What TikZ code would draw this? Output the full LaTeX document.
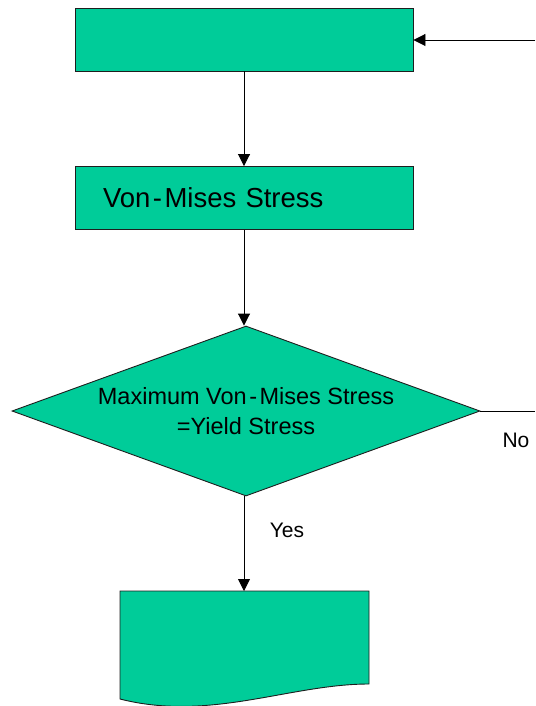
\documentclass[tikz,border=0pt]{standalone}
\usepackage{fontspec}
\setmainfont{Liberation Sans}
\usepackage{tikz}
\usetikzlibrary{shapes.geometric, arrows.meta, positioning}
\definecolor{boxgreen}{RGB}{0,204,153}
\definecolor{edgegray}{RGB}{30,30,30}
\tikzset{
  procbox/.style={rectangle, draw=edgegray, fill=boxgreen, line width=0.9pt,
    minimum width=338pt, minimum height=63pt, inner sep=0pt},
  decision/.style={diamond, draw=edgegray, fill=boxgreen, line width=0.9pt,
    aspect=2.75, inner sep=0pt, align=center,
    font=\fontsize{23.5}{30}\selectfont},
  arrow/.style={-{Triangle[length=12pt,width=12pt]}, line width=0.9pt, color=black},
  line/.style={line width=0.9pt, color=black},
  lbl/.style={font=\fontsize{21}{24}\selectfont, inner sep=0pt}
}
\begin{document}
\begin{tikzpicture}[x=1pt, y=-1pt]
  \useasboundingbox (0,0) rectangle (535,706);

  % Boxes
  \node[procbox] (start) at (244,39.5) {};
  \node[procbox, text width=282pt, align=left,
    font=\fontsize{27.5}{30}\selectfont] (vms) at (244,198) {Von\kern2.5pt-\kern2.5pt Mises Stress};

  % Decision
  \node[decision, minimum width=468pt, minimum height=170pt] (check) at (246,411)
    {Maximum Von\kern2.5pt-\kern2.5pt Mises Stress\\=Yield Stress};

  % Output document
  \draw[fill=boxgreen, draw=edgegray, line width=0.9pt]
    (120,591) -- (369,591) -- (369,684)
    .. controls (290,684) and (210,722) .. (120,699) -- cycle;
  \coordinate (doctop) at (244,591);

  % Connections
  \coordinate (loopin) at (535,40);
  \coordinate (noend) at (535,411);
  \draw[arrow] (loopin) -- (start.east |- loopin);
  \draw[arrow] (start) -- (vms);
  \draw[arrow] (vms) -- (check.north -| vms);
  \draw[arrow] (check.south -| vms) -- (doctop);
  \draw[line] (check.east) -- (noend);

  \node[lbl] (no) at (516,440) {No};
  \node[lbl] (yes) at (287,530) {Yes};
\end{tikzpicture}
\end{document}
